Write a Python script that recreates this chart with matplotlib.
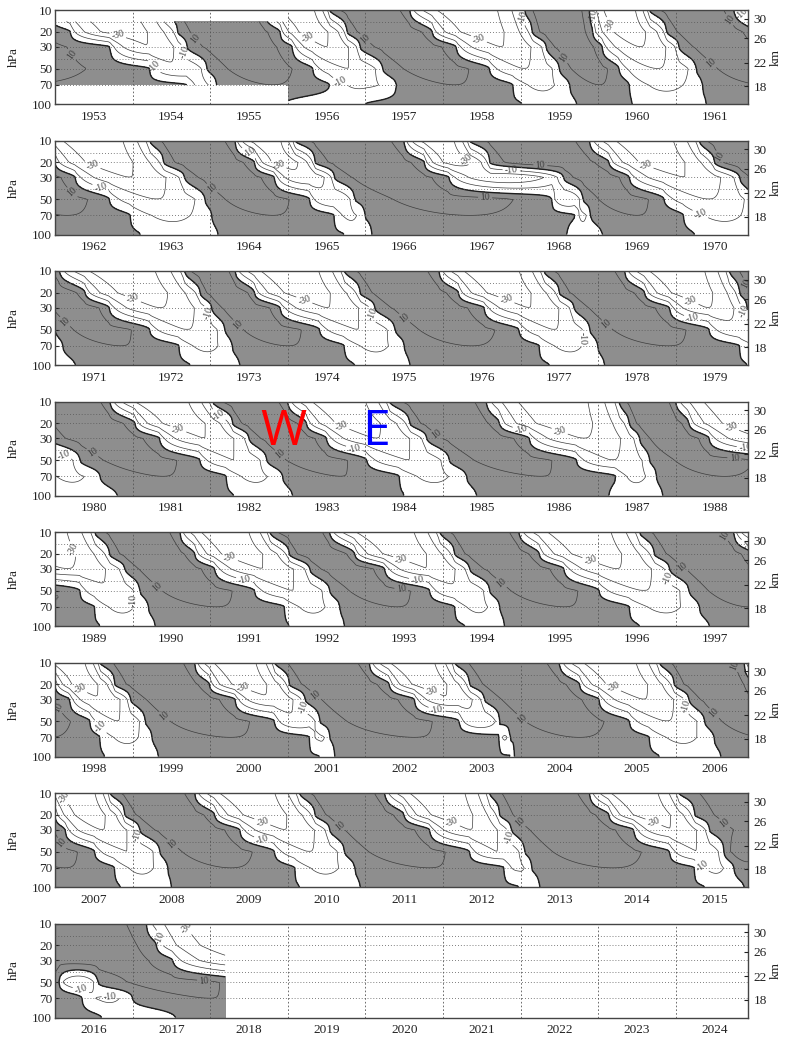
import numpy as np
import matplotlib.pyplot as plt

plt.rcParams['font.family'] = ['Liberation Serif', 'DejaVu Serif']
plt.rcParams['contour.negative_linestyle'] = 'solid'

# pressure levels (hPa) at which the westerly (shaded) periods were read
LEVELS = [10, 20, 30, 50, 70, 100]

# westerly periods (start, end) in decimal years at each level
WEST_10 = [(1950.0, 1952.9), (1954.4, 1955.7), (1956.54, 1957.57), (1959.05, 1959.89),
           (1960.66, 1961.75), (1963.22, 1964.32), (1965.09, 1966.5), (1967.34, 1968.89),
           (1970.3, 1971.06), (1972.67, 1973.32), (1974.73, 1975.95), (1977.3, 1978.34),
           (1979.69, 1980.71), (1982.03, 1983.0), (1984.31, 1985.56), (1987.27, 1988.0),
           (1989.51, 1990.61), (1991.77, 1992.54), (1993.96, 1994.98), (1996.53, 1997.75),
           (1998.58, 1999.8), (2000.83, 2002.05), (2003.15, 2004.5), (2005.79, 2006.88),
           (2007.71, 2008.8), (2010.15, 2011.25), (2012.6, 2013.89), (2015.04, 2017.18)]
WEST_20 = [(1950.0, 1953.2), (1954.58, 1955.9), (1956.76, 1957.86), (1959.15, 1959.93),
           (1960.88, 1962.0), (1963.4, 1964.57), (1965.35, 1966.76), (1967.6, 1969.14),
           (1970.5, 1971.39), (1972.87, 1973.57), (1974.93, 1976.2), (1977.5, 1978.6),
           (1979.82, 1981.03), (1982.29, 1983.24), (1984.57, 1985.73), (1987.4, 1988.17),
           (1989.7, 1990.8), (1992.02, 1992.86), (1994.15, 1995.24), (1996.72, 1998.0),
           (1998.77, 1999.99), (2001.02, 2002.31), (2003.34, 2004.76), (2005.98, 2007.0),
           (2007.9, 2009.06), (2010.35, 2011.5), (2012.73, 2014.14), (2015.24, 2017.31)]
WEST_30 = [(1950.0, 1953.71), (1954.7, 1956.06), (1956.93, 1958.17), (1959.33, 1960.05),
           (1961.04, 1962.26), (1963.67, 1964.83), (1965.6, 1967.08), (1968.55, 1969.4),
           (1970.82, 1971.7), (1973.02, 1973.9), (1975.12, 1976.53), (1977.69, 1978.92),
           (1979.92, 1981.35), (1982.5, 1983.5), (1984.79, 1986.11), (1987.53, 1988.43),
           (1989.9, 1991.06), (1992.28, 1993.25), (1994.34, 1995.56), (1996.92, 1998.19),
           (1998.97, 2000.32), (2001.22, 2002.63), (2003.53, 2005.01), (2006.17, 2007.13),
           (2008.09, 2009.38), (2010.54, 2011.83), (2012.88, 2014.46), (2015.43, 2017.52)]
WEST_50 = [(1950.0, 1954.22), (1954.96, 1956.32), (1957.22, 1958.6), (1959.5, 1960.27),
           (1961.26, 1962.7), (1963.93, 1965.28), (1965.86, 1968.4), (1968.8, 1969.85),
           (1971.0, 1972.22), (1973.19, 1974.41), (1975.38, 1976.98), (1977.89, 1979.43),
           (1980.32, 1981.87), (1982.73, 1984.02), (1985.08, 1986.72), (1987.66, 1989.32),
           (1990.09, 1991.57), (1992.54, 1993.83), (1994.6, 1996.01), (1997.17, 1998.45),
           (1999.16, 2000.83), (2001.41, 2003.21), (2003.73, 2005.4), (2006.37, 2007.51),
           (2008.35, 2009.83), (2010.73, 2012.34), (2013.05, 2014.92), (2015.62, 2016.05),
           (2016.55, 2018.5)]
WEST_70 = [(1950.0, 1954.7), (1955.08, 1956.54), (1957.4, 1958.9), (1959.63, 1960.4),
           (1961.34, 1962.97), (1964.02, 1965.6), (1965.99, 1968.7), (1968.9, 1970.1),
           (1971.1, 1972.6), (1973.28, 1974.73), (1975.5, 1977.24), (1977.99, 1979.82),
           (1980.58, 1982.21), (1982.93, 1984.44), (1985.3, 1987.23), (1987.75, 1989.51),
           (1990.2, 1991.96), (1992.67, 1994.15), (1994.73, 1996.4), (1997.3, 1998.58),
           (1999.25, 2001.28), (2001.54, 2003.73), (2003.86, 2005.66), (2006.49, 2007.77),
           (2008.45, 2010.09), (2010.86, 2012.79), (2013.14, 2015.24), (2015.75, 2016.35),
           (2017.0, 2019.0)]
WEST_100 = [(1950.0, 1955.95), (1957.0, 1959.02), (1959.72, 1960.44), (1961.39, 1963.1),
            (1964.1, 1965.73), (1966.08, 1968.6), (1969.05, 1970.24), (1971.26, 1972.74),
            (1973.38, 1974.86), (1975.57, 1977.37), (1978.08, 1979.92), (1980.8, 1982.3),
            (1983.06, 1984.5), (1985.43, 1987.14), (1987.83, 1989.58), (1990.29, 1992.02),
            (1992.73, 1994.28), (1994.79, 1996.53), (1997.43, 1998.64), (1999.33, 2001.41),
            (2001.6, 2003.86), (2003.92, 2005.79), (2006.58, 2007.84), (2008.5, 2010.15),
            (2010.93, 2012.98), (2013.24, 2015.37), (2015.88, 2016.6), (2017.55, 2019.0)]
WEST = [WEST_10, WEST_20, WEST_30, WEST_50, WEST_70, WEST_100]

# typical peak westerly / easterly speed (m/s) at each level
AMP_W = [18, 18, 16, 14, 10, 5]
AMP_E = [38, 35, 30, 20, 12, 6]

PANEL_START = [1953, 1962, 1971, 1980, 1989, 1998, 2007, 2016]
DATA_END = 2018.2
FULL_DEPTH_FROM = 1956.0   # before this only 15-70 hPa were observed

P_TICKS = [10, 20, 30, 50, 70, 100]
KM_LABELS = ['30', '26', '22', '18']
KM_AT_P = [13.5, 24, 44, 72]
GRID_P = [15, 20, 30, 40, 50, 70]


def fwd(p):
    return np.abs(p) ** 0.3


def inv(s):
    return np.abs(s) ** (1 / 0.3)


def level_wind(t, spans, aw, ae):
    u = np.zeros_like(t)
    parts = [(spans[0][0] - 2.0, spans[0][0], -ae)]
    for i, (a, b) in enumerate(spans):
        parts.append((a, b, aw))
        nxt = spans[i + 1][0] if i + 1 < len(spans) else b + 2.0
        parts.append((b, nxt, -ae))
    for a, b, amp in parts:
        m = (t >= a) & (t < b)
        x = (t[m] - a) / (b - a)
        u[m] = amp * np.sin(np.pi * x) ** 0.6
    return u


s_lev = fwd(np.array(LEVELS, float))
s_grid = np.linspace(s_lev[0], s_lev[-1], 90)
p_grid = inv(s_grid)

W_PX, H_PX = 785, 1038
fig = plt.figure(figsize=(W_PX / 100, H_PX / 100), dpi=100)

for k, Y in enumerate(PANEL_START):
    top = 10 + 130.5 * k
    ax = fig.add_axes([55 / W_PX, 1 - (top + 94) / H_PX, 693 / W_PX, 94 / H_PX])
    t = np.arange(Y - 0.1, Y + 9.05, 1 / 48)
    u_lev = np.array([level_wind(t, WEST[i], AMP_W[i], AMP_E[i]) for i in range(len(LEVELS))])
    U = np.array([np.interp(s_grid, s_lev, u_lev[:, j]) for j in range(len(t))]).T
    T, P = np.meshgrid(t, p_grid)
    mask = (T > DATA_END) | ((T < FULL_DEPTH_FROM) & ((P < 14.5) | (P > 71)))
    U = np.ma.masked_where(mask, U)

    ax.set_yscale('function', functions=(fwd, inv))
    ax.contourf(t, p_grid, U, levels=[0, 200], colors=['#8e8e8e'])
    cs = ax.contour(t, p_grid, U, levels=[-40, -30, -20, -10, 10, 20],
                    colors='#3c3c3c', linewidths=0.5)
    ax.contour(t, p_grid, U, levels=[0], colors='#1e1e1e', linewidths=1.0)
    ax.clabel(cs, levels=[-30, -10, 10], fmt='%d', fontsize=7, inline_spacing=2)

    for gp in GRID_P:
        ax.axhline(gp, color='#555555', lw=0.6, ls=(0, (1, 2.5)), zorder=3)
    for yr in range(Y + 1, Y + 9):
        ax.axvline(yr, color='#555555', lw=0.6, ls=(0, (2, 2.5)), zorder=3)

    ax.set_xlim(Y, Y + 8.93)
    ax.set_ylim(100, 10)
    ax.set_yticks(P_TICKS)
    ax.set_yticklabels([str(v) for v in P_TICKS])
    ax.yaxis.set_minor_locator(plt.NullLocator())
    ax.set_xticks([Y + i + 0.5 for i in range(9)])
    ax.set_xticklabels([str(Y + i) for i in range(9)])
    ax.tick_params(axis='x', length=0, pad=5, labelsize=9.5, colors='#222222')
    ax.tick_params(axis='y', length=3, direction='in', pad=2, labelsize=9.5, colors='#222222')
    ax.set_ylabel('hPa', fontsize=9.5, labelpad=9, color='#222222')
    for sp in ax.spines.values():
        sp.set_color('#444444')
        sp.set_linewidth(1.0)

    ax2 = ax.twinx()
    ax2.set_yscale('function', functions=(fwd, inv))
    ax2.set_ylim(100, 10)
    ax2.set_yticks(KM_AT_P)
    ax2.set_yticklabels(KM_LABELS)
    ax2.yaxis.set_minor_locator(plt.NullLocator())
    ax2.tick_params(axis='y', length=3, direction='in', pad=4, labelsize=9.5, colors='#222222')
    ax2.set_ylabel('km', fontsize=9.5, labelpad=2, color='#222222')
    for sp in ax2.spines.values():
        sp.set_visible(False)

fig.text(283 / W_PX, 1 - 432 / H_PX, 'W', color='#ff0000', fontsize=36,
         family='Open Sans', ha='center', va='center')
fig.text(376 / W_PX, 1 - 432 / H_PX, 'E', color='#0000ff', fontsize=36,
         family='Open Sans', ha='center', va='center')

fig.savefig('out.png', dpi=100)
